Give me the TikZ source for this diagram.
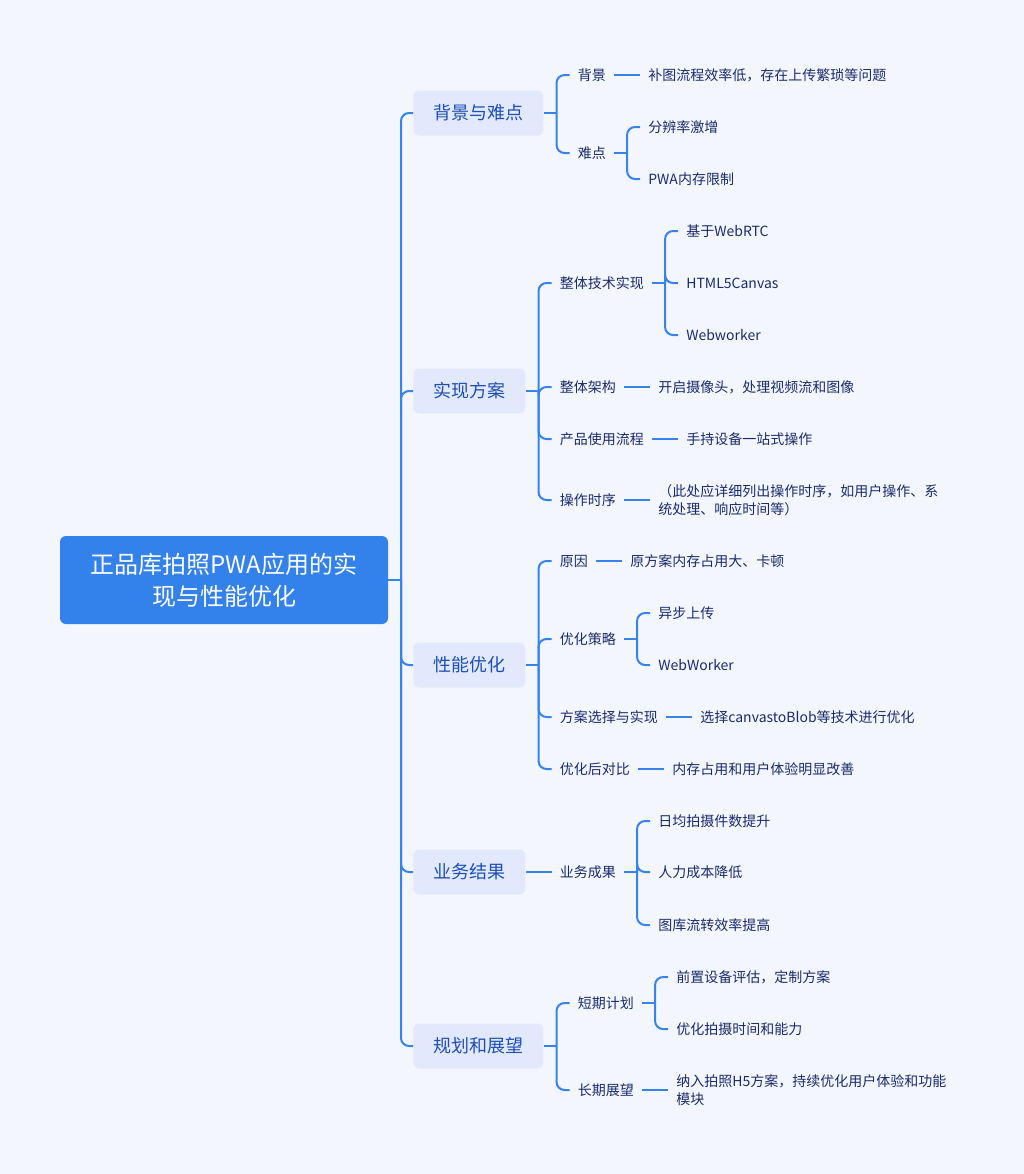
\documentclass[tikz,border=0pt]{standalone}
\usepackage{fontspec}
\setmainfont{Noto Sans CJK SC}
\usetikzlibrary{calc}
\definecolor{bgc}{HTML}{F4F6FD}
\definecolor{rootc}{HTML}{3381EB}
\definecolor{linec}{HTML}{3583EC}
\definecolor{boxc}{HTML}{E2E9FC}
\definecolor{lvonec}{HTML}{1D4FB5}
\definecolor{leafc}{HTML}{1A2B6D}
\begin{document}
\begin{tikzpicture}[x=0.75pt,y=-0.75pt,
  conn/.style={draw=linec,line width=1.5pt,rounded corners=6pt},
  rootbox/.style={fill=rootc,rounded corners=4.5pt,minimum width=246pt,minimum height=66pt,
    text=white,align=center,font=\fontsize{18pt}{24pt}\selectfont,inner sep=0pt},
  lvone/.style={fill=boxc,rounded corners=4.5pt,minimum height=33.75pt,inner xsep=15pt,
    text=lvonec,font=\fontsize{13.5pt}{16pt}\selectfont,anchor=west},
  leaf/.style={text=leafc,font=\fontsize{10.5pt}{13.5pt}\selectfont,inner xsep=6pt,inner ysep=1pt,
    anchor=west,align=left}]
\newcommand\kid[4]{\node[leaf] (#1) at ($(#2.east |- 0,#3)+(26,0)$) {#4};}
\useasboundingbox (0,0) rectangle (1024,1174);
\fill[bgc] (0,0) rectangle (1024,1174);

% root
\node[rootbox] (R) at (224,580) {正品库拍照PWA应用的实\\现与性能优化};

% level one
\node[lvone] (A) at (413,113) {背景与难点};
\node[lvone] (B) at (413,391) {实现方案};
\node[lvone] (C) at (413,665) {性能优化};
\node[lvone] (D) at (413,872) {业务结果};
\node[lvone] (E) at (413,1046) {规划和展望};

\draw[conn] (R.east) -- (401,580) coordinate (T);
\foreach \n in {A,B,C,D,E} \draw[conn] (T) |- (\n.west);

% A
\kid{A1}{A}{75}{背景}
\kid{A2}{A}{153}{难点}
\kid{A11}{A1}{75}{补图流程效率低，存在上传繁琐等问题}
\kid{A21}{A2}{127}{分辨率激增}
\kid{A22}{A2}{179}{PWA内存限制}

% B
\kid{B1}{B}{283}{整体技术实现}
\kid{B2}{B}{387}{整体架构}
\kid{B3}{B}{439}{产品使用流程}
\kid{B4}{B}{500}{操作时序}
\kid{B11}{B1}{231}{基于WebRTC}
\kid{B12}{B1}{283}{HTML5Canvas}
\kid{B13}{B1}{335}{Webworker}
\kid{B21}{B2}{387}{开启摄像头，处理视频流和图像}
\kid{B31}{B3}{439}{手持设备一站式操作}
\kid{B41}{B4}{500}{（此处应详细列出操作时序，如用户操作、系\\统处理、响应时间等）}

% C
\kid{C1}{C}{561}{原因}
\kid{C2}{C}{639}{优化策略}
\kid{C3}{C}{717}{方案选择与实现}
\kid{C4}{C}{769}{优化后对比}
\kid{C11}{C1}{561}{原方案内存占用大、卡顿}
\kid{C21}{C2}{613}{异步上传}
\kid{C22}{C2}{665}{WebWorker}
\kid{C31}{C3}{717}{选择canvastoBlob等技术进行优化}
\kid{C41}{C4}{769}{内存占用和用户体验明显改善}

% D
\kid{D1}{D}{872}{业务成果}
\kid{D11}{D1}{821}{日均拍摄件数提升}
\kid{D12}{D1}{872}{人力成本降低}
\kid{D13}{D1}{925}{图库流转效率提高}

% E
\kid{E1}{E}{1003}{短期计划}
\kid{E2}{E}{1090}{长期展望}
\kid{E11}{E1}{977}{前置设备评估，定制方案}
\kid{E12}{E1}{1029}{优化拍摄时间和能力}
\kid{E21}{E2}{1090}{纳入拍照H5方案，持续优化用户体验和功能\\模块}

% brackets
\draw[conn] (A.east) -- ++(13,0) coordinate (Ab);
\foreach \n in {A1,A2} \draw[conn] (Ab) |- (\n.west);
\draw[conn] (B.east) -- ++(13,0) coordinate (Bb);
\foreach \n in {B1,B2,B3,B4} \draw[conn] (Bb) |- (\n.west);
\draw[conn] (C.east) -- ++(13,0) coordinate (Cb);
\foreach \n in {C1,C2,C3,C4} \draw[conn] (Cb) |- (\n.west);
\draw[conn] (D.east) -- (D1.west);
\draw[conn] (E.east) -- ++(13,0) coordinate (Eb);
\foreach \n in {E1,E2} \draw[conn] (Eb) |- (\n.west);

\draw[conn] (A1.east) -- (A11.west);
\draw[conn] (A2.east) -- ++(13,0) coordinate (A2b);
\foreach \n in {A21,A22} \draw[conn] (A2b) |- (\n.west);
\draw[conn] (B1.east) -- ++(13,0) coordinate (B1b);
\foreach \n in {B11,B12,B13} \draw[conn] (B1b) |- (\n.west);
\draw[conn] (B2.east) -- (B21.west);
\draw[conn] (B3.east) -- (B31.west);
\draw[conn] (B4.east) -- (B41.west);
\draw[conn] (C1.east) -- (C11.west);
\draw[conn] (C2.east) -- ++(13,0) coordinate (C2b);
\foreach \n in {C21,C22} \draw[conn] (C2b) |- (\n.west);
\draw[conn] (C3.east) -- (C31.west);
\draw[conn] (C4.east) -- (C41.west);
\draw[conn] (D1.east) -- ++(13,0) coordinate (D1b);
\foreach \n in {D11,D12,D13} \draw[conn] (D1b) |- (\n.west);
\draw[conn] (E1.east) -- ++(13,0) coordinate (E1b);
\foreach \n in {E11,E12} \draw[conn] (E1b) |- (\n.west);
\draw[conn] (E2.east) -- (E21.west);
\end{tikzpicture}
\end{document}
